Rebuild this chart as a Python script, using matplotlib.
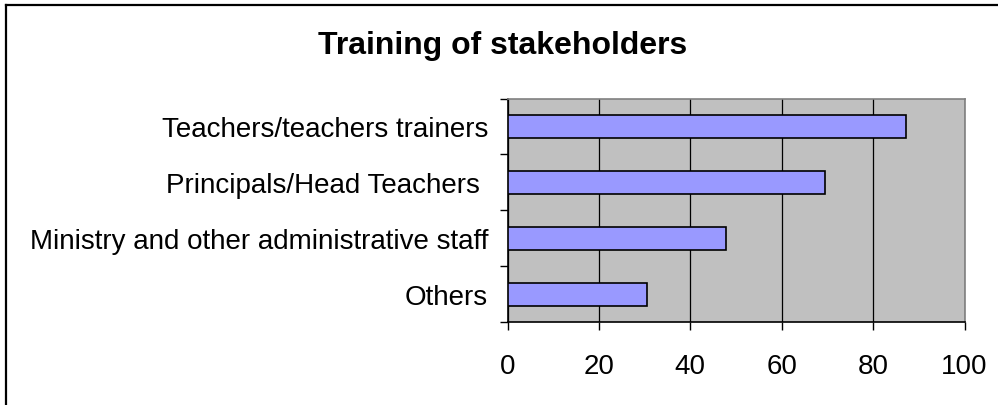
import matplotlib
matplotlib.use("Agg")
import matplotlib.pyplot as plt
from matplotlib.lines import Line2D

categories = ["Teachers/teachers trainers", "Principals/Head Teachers ",
              "Ministry and other administrative staff", "Others"]
values = [87.1, 69.4, 47.9, 30.5]
xticks = [0, 20, 40, 60, 80, 100]

plt.rcParams['font.family'] = ['Liberation Sans', 'DejaVu Sans']

W, H = 998, 406
fig = plt.figure(figsize=(W / 100, H / 100), dpi=100)
fig.patch.set_facecolor('white')
# figure border (only top and left visible in the cropped image)
bx, by = 6 / W, 1 - 6 / H
fig.add_artist(Line2D([bx, 1.0], [by, by], transform=fig.transFigure, color='black', linewidth=1.6))
fig.add_artist(Line2D([bx, bx], [0.0, by], transform=fig.transFigure, color='black', linewidth=1.6))

left, right, top, bottom = 507.5, 964.5, 99.5, 323
ax = fig.add_axes([left / W, 1 - bottom / H, (right - left) / W, (bottom - top) / H])
ax.set_facecolor('#C0C0C0')

n = len(categories)
ypos = list(range(n))[::-1]
ax.barh(ypos, values, height=0.41, color='#9999FF', edgecolor='black', linewidth=1.2, zorder=3)
ax.set_xlim(0, 100)
ax.set_ylim(-0.5, n - 0.5)
ax.set_xticks(xticks)
ax.set_xticklabels([str(v) for v in xticks], fontsize=20)
ax.xaxis.grid(True, color='black', linewidth=0.9, zorder=1)
ax.set_axisbelow(True)

ax.set_yticks([y - 0.5 for y in range(n + 1)])
ax.set_yticklabels([])
ax.set_yticks(ypos, minor=True)
ax.set_yticklabels(categories, minor=True, fontsize=20)
ax.tick_params(axis='y', which='minor', length=0, pad=14)
ax.tick_params(axis='y', which='major', length=6, width=1, direction='out')
ax.tick_params(axis='x', length=6, width=1, direction='out', pad=16)

ax.spines['left'].set_color('black')
ax.spines['bottom'].set_color('black')
ax.spines['top'].set_color('#808080')
ax.spines['right'].set_color('#808080')
for s in ax.spines.values():
    s.set_linewidth(1.2)

fig.text(503 / W, 1 - 54 / H, "Training of stakeholders", ha='center', va='baseline',
         fontsize=23, fontweight='bold')

fig.savefig("out.png", dpi=100)
